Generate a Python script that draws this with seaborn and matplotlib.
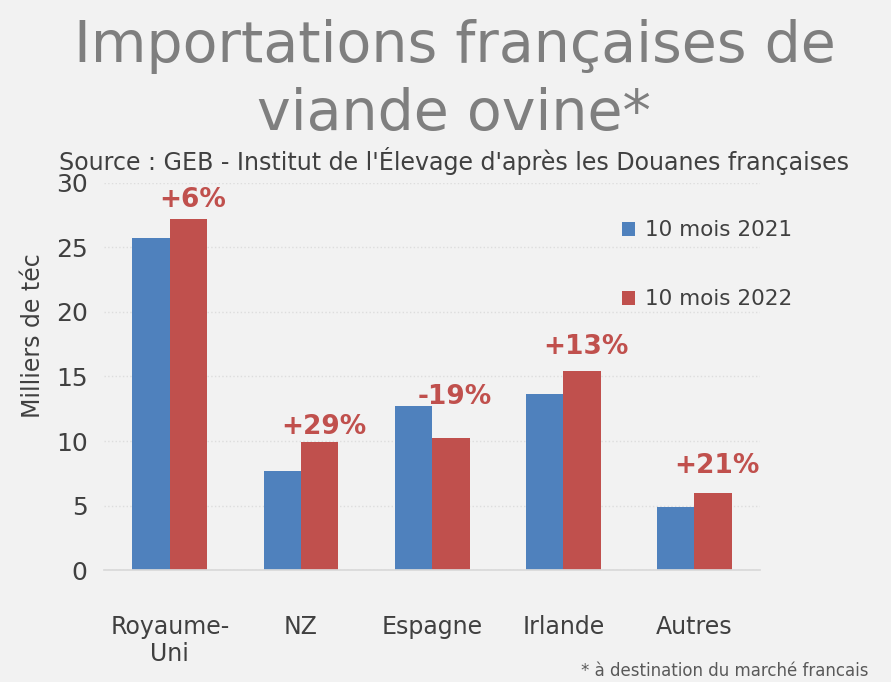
import pandas as pd
import matplotlib
matplotlib.use("Agg")
import matplotlib.pyplot as plt
import seaborn as sns

# %% Data
pays = ["Royaume-\nUni", "NZ", "Espagne", "Irlande", "Autres"]
series = ["10 mois 2021", "10 mois 2022"]
vals_2021 = [25.7, 7.7, 12.7, 13.65, 4.9]
vals_2022 = [27.2, 9.9, 10.25, 15.4, 5.95]
evolution = ["+6%", "+29%", "-19%", "+13%", "+21%"]

df = pd.DataFrame({
    "Pays": pays * 2,
    "Periode": [series[0]] * len(pays) + [series[1]] * len(pays),
    "Volume": vals_2021 + vals_2022,
})

# %% Style
sns.set_theme(style="white")
plt.rcParams["font.family"] = ["DejaVu Sans"]
bg = "#f2f2f2"
txt = "#404040"
colors = {"10 mois 2021": "#4f81bd", "10 mois 2022": "#c0504d"}

fig = plt.figure(figsize=(8.91, 6.82), dpi=100, facecolor=bg)
ax = fig.add_axes([0.117, 0.164, 0.736, 0.568], facecolor=bg)

sns.barplot(data=df, x="Pays", y="Volume", hue="Periode", palette=colors,
            width=0.57, gap=0, saturation=1, linewidth=0, ax=ax, legend=True)

ax.set_ylim(0, 30)
ax.set_yticks(range(0, 31, 5))
ax.set_xlim(-0.5, len(pays) - 0.5)
ax.grid(axis="y", color="#dddddd", linestyle=":", linewidth=1)
ax.set_axisbelow(True)
for s in ["top", "right", "left"]:
    ax.spines[s].set_visible(False)
ax.spines["bottom"].set_color("#d9d9d9")

ax.tick_params(axis="y", length=0, labelsize=18, labelcolor=txt, pad=12)
ax.tick_params(axis="x", which="major", length=0, labelsize=17, labelcolor=txt, pad=32)
ax.set_xticks([i - 0.5 for i in range(len(pays) + 1)], minor=True)
ax.tick_params(axis="x", which="minor", length=7, color="#d9d9d9", width=1)
ax.set_xlabel("")
ax.set_ylabel("Milliers de téc", fontsize=17, color=txt)
ax.yaxis.set_label_coords(-0.091, 0.605)

# labels above the 2022 bars
label_offsets = [4, 2, 20, 8, 10]
for bar, lab, off in zip(ax.containers[1], evolution, label_offsets):
    ax.annotate(lab, (bar.get_x() + bar.get_width() / 2 + 0.03, bar.get_height()),
                xytext=(0, off), textcoords="offset points", ha="center", va="bottom",
                fontsize=19, fontweight="bold", color="#c0504d")

ax.legend(loc="upper left", bbox_to_anchor=(0.76, 0.953), frameon=False,
          fontsize=15.5, labelspacing=2.28, handlelength=0.6, handleheight=0.6,
          handletextpad=0.45, labelcolor=txt)

fig.text(0.51, 1 - 62 / 682, "Importations françaises de", ha="center", va="baseline",
         fontsize=41, color="#7f7f7f")
fig.text(0.51, 1 - 130 / 682, "viande ovine*", ha="center", va="baseline",
         fontsize=41, color="#7f7f7f")
fig.text(0.51, 0.764, "Source : GEB - Institut de l'Élevage d'après les Douanes françaises",
         ha="center", va="center", fontsize=17.1, color=txt)
fig.text(0.975, 0.003, "* à destination du marché francais", ha="right", va="bottom",
         fontsize=12, color="#595959")

fig.savefig("out.png", dpi=100, facecolor=bg)
